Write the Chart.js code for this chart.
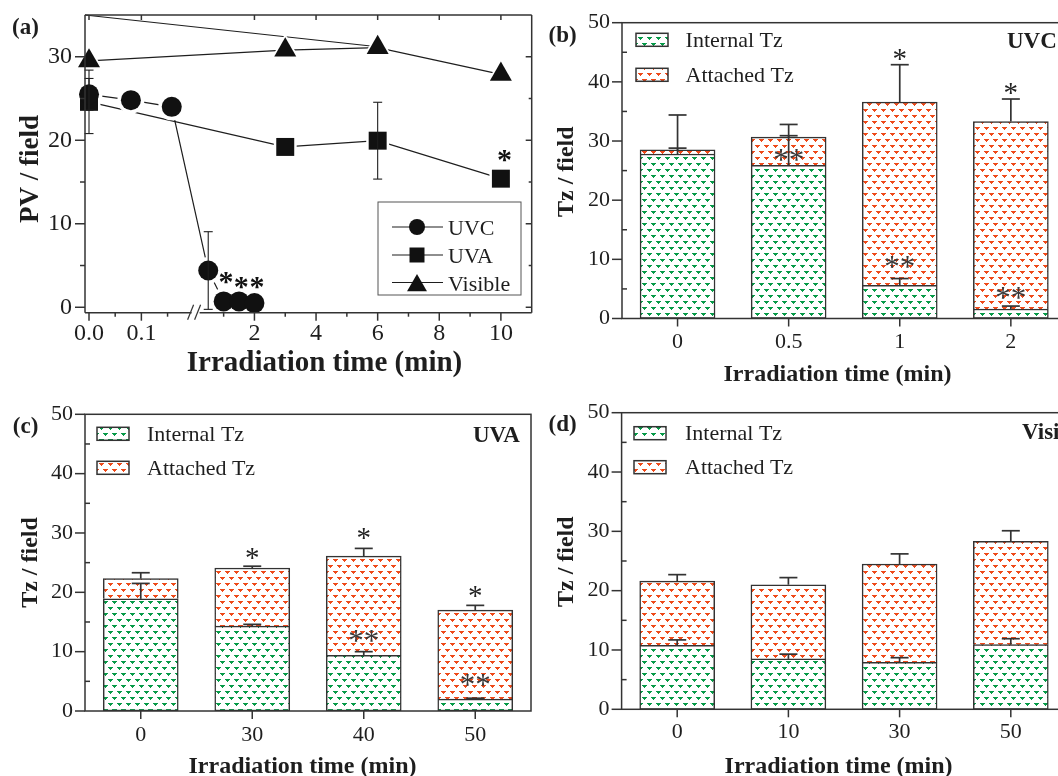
<!DOCTYPE html>
<html lang="en">
<head>
<meta charset="UTF-8" />
<title>PV and Tz per field under irradiation</title>
<style>
  body { margin: 0; background: #fff; width: 1058px; height: 776px; overflow: hidden; position: relative; }
  canvas { position: absolute; }
</style>
<script src="https://cdn.jsdelivr.net/npm/chart.js"></script>
</head>
<body>
<canvas id="pa" width="540" height="390" style="left:0;top:0"></canvas>
<canvas id="pb" width="545" height="390" style="left:530px;top:0"></canvas>
<canvas id="pc" width="540" height="386" style="left:0;top:390px"></canvas>
<canvas id="pd" width="545" height="386" style="left:530px;top:390px"></canvas>
<script>
// ---------- panel (a): PV / field vs time, broken x axis ----------
const aUvcTime = [0, 0.08, 0.158, 0.5, 1, 1.5, 2];
const aUvcPV = [25.5, 24.8, 24.0, 4.4, 0.7, 0.7, 0.5];
const aUvcErr = [1.9, 0, 0, 4.65, 0, 0, 0];
const aUvaTime = [0, 3, 6, 10];
const aUvaPV = [24.6, 19.2, 19.95, 15.4];
const aUvaErr = [3.8, 0, 4.6, 0];
const aVisTime = [0, 3, 6, 10];
const aVisPV = [29.5, 30.8, 31.1, 27.9];
const aVisErr = [0, 0, 0, 0];
const aGuideTime = [-0.008, 6];
const aGuidePV = [35, 31.2];
const aTickTimes = [0, 0.1, 2, 4, 6, 8, 10];
const aTickLabels = ['0.0', '0.1', '2', '4', '6', '8', '10'];
const aMinorTimes = [0.05, 0.15, 1, 3, 5, 7, 9];
const aYTicks = [0, 10, 20, 30];
const aYMinor = [5, 15, 25];
const aStars = [
  { t: 10.12, y: 18.2 }, { t: 1.08, y: 3.66 }, { t: 1.57, y: 3.07 }, { t: 2.08, y: 3.07 },
];

// ---------- panels (b)-(d): stacked Tz bars ----------
const barYTicks = [0, 10, 20, 30, 40, 50];
const barYMinor = [5, 15, 25, 35, 45];

const bCats = ['0', '0.5', '1', '2'];
const bInternal = [27.8, 25.9, 5.6, 1.6];
const bAttached = [0.7, 4.75, 31.0, 31.7];
const bInternalErr = [1.0, 5.0, 1.15, 0.5];
const bTotalErr = [5.9, 2.15, 6.3, 3.8];
const bStars = [
  { i: 2, y: 44.7, s: '*' }, { i: 3, y: 38.9, s: '*' },
  { i: 1, y: 27.5, s: '**' }, { i: 2, y: 9.4, s: '**' }, { i: 3, y: 4.3, s: '**' },
];

const cCats = ['0', '30', '40', '50'];
const cInternal = [18.9, 14.3, 9.4, 2.0];
const cAttached = [3.4, 9.8, 16.7, 15.0];
const cInternalErr = [2.6, 0.3, 0.6, 0.15];
const cTotalErr = [1.0, 0.3, 1.3, 0.8];
const cStars = [
  { i: 1, y: 26.5, s: '*' }, { i: 2, y: 29.9, s: '*' }, { i: 3, y: 20.1, s: '*' },
  { i: 2, y: 12.5, s: '**' }, { i: 3, y: 5.2, s: '**' },
];

const dCats = ['0', '10', '30', '50'];
const dInternal = [10.8, 8.5, 7.9, 10.9];
const dAttached = [10.8, 12.5, 16.6, 17.4];
const dInternalErr = [0.9, 0.8, 0.8, 1.0];
const dTotalErr = [1.1, 1.2, 1.7, 1.8];
const dStars = [];

const SERIF = '"Liberation Serif", "Times New Roman", Times, serif';
const INK = '#1e1e1e';
const EDGE = '#333';
const GREEN = '#079a48';
const ORANGE = '#ee4a1a';

Chart.defaults.font.family = SERIF;
Chart.defaults.color = INK;

// little "v" marks on white, like the print hatching
function dotFill(color) {
  const tile = document.createElement('canvas');
  tile.width = 9; tile.height = 12;
  const g = tile.getContext('2d');
  g.fillStyle = '#fff';
  g.fillRect(0, 0, 9, 12);
  g.fillStyle = color;
  [[0, 1], [4, 7]].forEach(([x, y]) => {
    g.fillRect(x, y, 5, 1);
    g.fillRect(x + 1, y + 1, 3, 1);
    g.fillRect(x + 2, y + 2, 1, 1);
  });
  return g.createPattern(tile, 'repeat');
}
const greenFill = dotFill(GREEN);
const orangeFill = dotFill(ORANGE);

// time (min) -> axis position; left of the break 0..0.2 min is stretched
function brk(t) {
  return t <= 0.2 ? -3.37 + 17 * t : t;
}

function seg(ctx, x1, y1, x2, y2) {
  ctx.beginPath(); ctx.moveTo(x1, y1); ctx.lineTo(x2, y2); ctx.stroke();
}

function star(ctx, text, x, y, size, weight, color) {
  ctx.font = `${weight} ${size}px ${SERIF}`;
  ctx.fillStyle = color;
  ctx.textAlign = 'center';
  ctx.textBaseline = 'alphabetic';
  ctx.fillText(text, x, y + size * 0.47);
}

function text(ctx, str, x, y, font, align) {
  ctx.font = font;
  ctx.fillStyle = INK;
  ctx.textAlign = align || 'left';
  ctx.textBaseline = 'alphabetic';
  ctx.fillText(str, x, y);
}

function vtext(ctx, str, x, y, font) {
  ctx.save();
  ctx.translate(x, y);
  ctx.rotate(-Math.PI / 2);
  ctx.font = font;
  ctx.fillStyle = INK;
  ctx.textAlign = 'center';
  ctx.textBaseline = 'middle';
  ctx.fillText(str, 0, 0);
  ctx.restore();
}

function mark(ctx, style, x, y, r) {
  ctx.beginPath();
  if (style === 'circle') {
    ctx.arc(x, y, r, 0, Math.PI * 2);
  } else if (style === 'rect') {
    const h = r * Math.SQRT1_2;
    ctx.rect(x - h, y - h, 2 * h, 2 * h);
  } else {
    ctx.moveTo(x, y - r);
    ctx.lineTo(x + r * 0.866, y + r / 2);
    ctx.lineTo(x - r * 0.866, y + r / 2);
    ctx.closePath();
  }
  ctx.fill();
}

// fixes the axis boxes so the plot area lands where the original has it
function fixY(w) {
  return s => { s.width = w; s.paddingTop = 0; s.paddingBottom = 0; };
}
function fixX(h) {
  return s => { s.height = h; s.paddingLeft = 0; s.paddingRight = 0; };
}

// ================= panel (a) =================
const aSeries = [
  { name: 'UVC', t: aUvcTime, v: aUvcPV, e: aUvcErr, style: 'circle', r: 10, lr: 8 },
  { name: 'UVA', t: aUvaTime, v: aUvaPV, e: aUvaErr, style: 'rect', r: 12.7, lr: 10.6 },
  { name: 'Visible', t: aVisTime, v: aVisPV, e: aVisErr, style: 'triangle', r: 12.7, lr: 11.5 },
];

const aDatasets = [{
  data: aGuideTime.map((t, i) => ({ x: brk(t), y: aGuidePV[i] })),
  borderColor: INK, borderWidth: 1.2, pointRadius: 0, order: 3, clip: false,
}];
aSeries.forEach(s => {
  const pts = s.t.map((t, i) => ({ x: brk(t), y: s.v[i] }));
  // line plus white halo around each symbol (the gap before the marker)
  aDatasets.push({
    data: pts, borderColor: INK, borderWidth: 1.2, tension: 0,
    pointStyle: s.style, pointRadius: s.r + 3.5, pointBackgroundColor: '#fff',
    pointBorderWidth: 0, order: 2, clip: false,
  });
  aDatasets.push({
    data: pts, showLine: false,
    pointStyle: s.style, pointRadius: s.r, pointBackgroundColor: '#111',
    pointBorderWidth: 0, order: 1, clip: false,
  });
});

const aDecor = {
  id: 'aDecor',
  afterDatasetsDraw(chart) {
    const { ctx, scales: { x, y } } = chart;
    ctx.save();
    ctx.strokeStyle = INK;
    ctx.lineWidth = 1.1;
    aSeries.forEach(s => s.t.forEach((t, i) => {
      if (!s.e[i]) return;
      const px = x.getPixelForValue(brk(t));
      const top = y.getPixelForValue(s.v[i] + s.e[i]);
      const bot = y.getPixelForValue(Math.max(s.v[i] - s.e[i], -0.3));
      seg(ctx, px, top, px, bot);
      seg(ctx, px - 4.5, top, px + 4.5, top);
      seg(ctx, px - 4.5, bot, px + 4.5, bot);
    }));
    aStars.forEach(st => star(ctx, '*', x.getPixelForValue(st.t), y.getPixelForValue(st.y), 30, 'bold', '#111'));
    ctx.restore();
  },
  afterDraw(chart) {
    const { ctx, chartArea: a, scales: { x, y } } = chart;
    ctx.save();
    ctx.strokeStyle = EDGE;
    ctx.lineWidth = 1.5;
    seg(ctx, a.left, a.top, a.right, a.top);
    seg(ctx, a.left, a.top, a.left, a.bottom);
    seg(ctx, a.right, a.top, a.right, a.bottom);
    // bottom axis with a break
    const bx = x.getPixelForValue(0.09);
    seg(ctx, a.left, a.bottom, bx - 4, a.bottom);
    seg(ctx, bx + 4, a.bottom, a.right, a.bottom);
    ctx.lineWidth = 1.2;
    seg(ctx, bx - 8, a.bottom + 7, bx - 2, a.bottom - 8);
    seg(ctx, bx - 1, a.bottom + 7, bx + 5, a.bottom - 8);
    ctx.lineWidth = 1.5;
    aTickTimes.forEach(t => {
      const px = x.getPixelForValue(brk(t));
      seg(ctx, px, a.bottom, px, a.bottom + 8);
      seg(ctx, px, a.top, px, a.top + 5);
    });
    aMinorTimes.forEach(t => {
      const px = x.getPixelForValue(brk(t));
      seg(ctx, px, a.bottom, px, a.bottom + 4);
    });
    aYTicks.forEach(v => {
      const py = y.getPixelForValue(v);
      seg(ctx, a.left - 10, py, a.left, py);
      seg(ctx, a.right - 6, py, a.right, py);
    });
    aYMinor.forEach(v => {
      const py = y.getPixelForValue(v);
      seg(ctx, a.left - 5, py, a.left, py);
      seg(ctx, a.right - 3, py, a.right, py);
    });

    // legend box
    ctx.strokeStyle = '#555';
    ctx.lineWidth = 1;
    ctx.strokeRect(378, 202, 143, 93);
    const rows = [227, 255, 282.5];
    aSeries.forEach((s, i) => {
      ctx.strokeStyle = INK;
      ctx.lineWidth = 1.2;
      seg(ctx, 392, rows[i], 443, rows[i]);
      ctx.fillStyle = '#111';
      mark(ctx, s.style, 417, rows[i] + (s.style === 'triangle' ? 3 : 0), s.lr);
      text(ctx, s.name, 448, rows[i] + 8, `22px ${SERIF}`);
    });

    text(ctx, '(a)', 12, 34, `bold 23px ${SERIF}`);
    text(ctx, 'Irradiation time (min)', 324.5, 371, `bold 29px ${SERIF}`, 'center');
    vtext(ctx, 'PV / field', 31, 169, `bold 27px ${SERIF}`);
    ctx.restore();
  },
};

new Chart(document.getElementById('pa'), {
  type: 'line',
  data: { datasets: aDatasets },
  options: {
    responsive: false, animation: false, events: [], devicePixelRatio: 1,
    layout: { autoPadding: false, padding: { left: 0, top: 15, right: 8.3, bottom: 0 } },
    plugins: { legend: { display: false }, tooltip: { enabled: false } },
    scales: {
      x: {
        type: 'linear', min: -3.5, max: 11,
        afterBuildTicks: s => { s.ticks = aTickTimes.map(t => ({ value: brk(t) })); },
        afterFit: fixX(77.3),
        grid: { display: false, drawTicks: false }, border: { display: false },
        ticks: {
          callback: (v, i) => aTickLabels[i], autoSkip: false, maxRotation: 0,
          padding: 7, color: INK, font: { size: 24, family: SERIF },
        },
      },
      y: {
        min: -0.65, max: 35,
        afterBuildTicks: s => { s.ticks = aYTicks.map(v => ({ value: v })); },
        afterFit: fixY(85),
        grid: { display: false, drawTicks: false }, border: { display: false },
        ticks: { padding: 13, color: INK, font: { size: 24, family: SERIF } },
      },
    },
  },
  plugins: [aDecor],
});

// ================= bar panels =================
function barPanel(id, p) {
  const decor = {
    id: 'barDecor',
    afterDatasetsDraw(chart) {
      const { ctx, scales: { x, y } } = chart;
      ctx.save();
      ctx.strokeStyle = EDGE;
      ctx.lineWidth = 1.7;
      p.internal.forEach((v, i) => {
        const cx = x.getPixelForValue(i);
        const total = v + p.attached[i];
        [[v, p.internalErr[i]], [total, p.totalErr[i]]].forEach(([base, err]) => {
          const y0 = y.getPixelForValue(base);
          const y1 = y.getPixelForValue(base + err);
          seg(ctx, cx, y0, cx, y1);
          seg(ctx, cx - 9, y1, cx + 9, y1);
        });
      });
      p.stars.forEach(s => star(ctx, s.s, x.getPixelForValue(s.i), y.getPixelForValue(s.y),
        s.s === '**' ? 31 : 29, 'normal', s.s === '**' ? '#3a3a3a' : '#222'));
      ctx.restore();
    },
    afterDraw(chart) {
      const { ctx, chartArea: a, scales: { x, y } } = chart;
      ctx.save();
      ctx.strokeStyle = EDGE;
      ctx.lineWidth = 1.5;
      ctx.strokeRect(a.left, a.top, a.right - a.left, a.bottom - a.top);
      barYTicks.forEach(v => {
        const py = y.getPixelForValue(v);
        seg(ctx, a.left - 10, py, a.left, py);
      });
      barYMinor.forEach(v => {
        const py = y.getPixelForValue(v);
        seg(ctx, a.left, py, a.left + 5, py);
      });
      p.cats.forEach((c, i) => {
        const px = x.getPixelForValue(i);
        seg(ctx, px, a.bottom, px, a.bottom + 8);
      });

      // legend
      const L = p.legend;
      [[greenFill, 'Internal Tz'], [orangeFill, 'Attached Tz']].forEach(([fill, name], k) => {
        const top = L.y + k * L.dy;
        ctx.fillStyle = fill;
        ctx.fillRect(L.x, top, 32, 13);
        ctx.strokeStyle = EDGE;
        ctx.lineWidth = 1.5;
        ctx.strokeRect(L.x, top, 32, 13);
        text(ctx, name, L.tx, top + 13.4, `22px ${SERIF}`);
      });
      text(ctx, p.tag, p.tagX, p.tagY, `bold 23px ${SERIF}`);
      text(ctx, p.label, p.labelX, p.labelY, `bold 23px ${SERIF}`);
      text(ctx, 'Irradiation time (min)', p.titleX, p.titleY, `bold 24px ${SERIF}`, 'center');
      vtext(ctx, 'Tz / field', p.yTitleX, p.yTitleY, `bold 24px ${SERIF}`);
      ctx.restore();
    },
  };

  const common = { borderColor: EDGE, borderWidth: 1.5, barThickness: 75 };
  new Chart(document.getElementById(id), {
    type: 'bar',
    data: {
      datasets: [
        { ...common, label: 'Internal Tz', backgroundColor: greenFill, borderSkipped: false,
          data: p.internal.map((v, i) => ({ x: i, y: v })) },
        { ...common, label: 'Attached Tz', backgroundColor: orangeFill, borderSkipped: 'start',
          data: p.attached.map((v, i) => ({ x: i, y: v })) },
      ],
    },
    options: {
      responsive: false, animation: false, events: [], devicePixelRatio: 1,
      layout: { autoPadding: false, padding: { left: 0, top: p.top, right: p.right, bottom: 0 } },
      plugins: { legend: { display: false }, tooltip: { enabled: false } },
      scales: {
        x: {
          type: 'linear', min: -0.5, max: 3.5, stacked: true, offset: false,
          afterBuildTicks: s => { s.ticks = p.cats.map((c, i) => ({ value: i })); },
          afterFit: fixX(p.xh),
          grid: { display: false, drawTicks: false }, border: { display: false },
          ticks: {
            callback: v => p.cats[v], autoSkip: false, maxRotation: 0,
            padding: p.xPad, color: INK, font: { size: 22, family: SERIF },
          },
        },
        y: {
          min: 0, max: 50, stacked: true,
          afterBuildTicks: s => { s.ticks = barYTicks.map(v => ({ value: v })); },
          afterFit: fixY(p.yw),
          grid: { display: false, drawTicks: false }, border: { display: false },
          ticks: { padding: 12, color: INK, font: { size: 22, family: SERIF } },
        },
      },
    },
    plugins: [decor],
  });
}

barPanel('pb', {
  cats: bCats, internal: bInternal, attached: bAttached,
  internalErr: bInternalErr, totalErr: bTotalErr, stars: bStars,
  top: 22.7, right: 8.6, yw: 92, xh: 71.5, xPad: 11,
  legend: { x: 106, y: 33.3, dy: 35, tx: 155.6 },
  tag: '(b)', tagX: 18.5, tagY: 41.5,
  label: 'UVC', labelX: 477, labelY: 48,
  titleX: 307.5, titleY: 380.5, yTitleX: 37, yTitleY: 171.7,
});

barPanel('pc', {
  cats: cCats, internal: cInternal, attached: cAttached,
  internalErr: cInternalErr, totalErr: cTotalErr, stars: cStars,
  top: 24.3, right: 9, yw: 85, xh: 65, xPad: 11,
  legend: { x: 97, y: 37.3, dy: 34, tx: 147 },
  tag: '(c)', tagX: 12.8, tagY: 43,
  label: 'UVA', labelX: 473, labelY: 51.7,
  titleX: 302.5, titleY: 383, yTitleX: 31, yTitleY: 172.5,
});

barPanel('pd', {
  cats: dCats, internal: dInternal, attached: dAttached,
  internalErr: dInternalErr, totalErr: dTotalErr, stars: dStars,
  top: 22.7, right: 8.6, yw: 91.6, xh: 66.7, xPad: 10,
  legend: { x: 104, y: 36.7, dy: 34, tx: 155 },
  tag: '(d)', tagX: 18.5, tagY: 41,
  label: 'Visible', labelX: 492, labelY: 49.3,
  titleX: 308.6, titleY: 383, yTitleX: 37, yTitleY: 171.7,
});
</script>
</body>
</html>
